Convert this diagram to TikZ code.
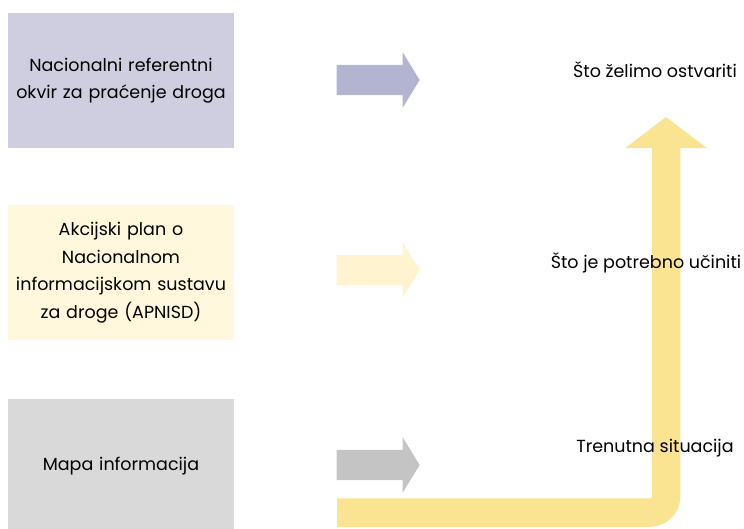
\documentclass[tikz,border=0pt]{standalone}
\usepackage{fontspec}
\setmainfont{Poppins}
\usepackage{tikz}
\usetikzlibrary{positioning,arrows.meta,shapes.arrows}
\definecolor{boxlav}{HTML}{CFCEE0}
\definecolor{boxcream}{HTML}{FFF8DC}
\definecolor{boxgray}{HTML}{D9D9D9}
\definecolor{arrlav}{HTML}{B3B5D0}
\definecolor{arrcream}{HTML}{FFF3D0}
\definecolor{arrgray}{HTML}{C4C4C4}
\definecolor{bigyellow}{HTML}{FBE491}
\tikzset{
  mainbox/.style={rectangle, minimum width=226pt, minimum height=135pt, inner sep=2pt,
                  align=center, text width=222pt, font=\fontsize{17.5}{27.5}\selectfont},
  smallarrow/.style={single arrow, minimum height=83pt, minimum width=55pt,
                     single arrow head extend=12.5pt, single arrow tip angle=117,
                     single arrow head indent=0pt, inner xsep=0pt, inner ysep=15pt},
  bigarrow/.style={line width=28.5pt, draw=bigyellow, rounded corners=16pt,
                   -{Triangle[width=80pt,length=31pt]}},
  label/.style={font=\fontsize{17.5}{20}\selectfont},
  lav/.style={fill=boxlav},
  cream/.style={fill=boxcream},
  gray/.style={fill=boxgray},
}
\begin{document}
\begin{tikzpicture}[x=1pt,y=-1pt]
  \useasboundingbox (0,0) rectangle (744,528);

  \node[mainbox, lav] (box1) at (121,80.5) {Nacionalni referentni\\okvir za praćenje droga};
  \node[mainbox, cream] (box2) at (121,272.5) {Akcijski plan o\\Nacionalnom\\informacijskom sustavu\\za droge (APNISD)};
  \node[mainbox, gray] (box3) at (121,466) {Mapa informacija};

  \node[smallarrow, fill=arrlav] (arrow1) at (373.5,80) {};
  \node[smallarrow, fill=arrcream] (arrow2) at (373.5,270) {};
  \node[smallarrow, fill=arrgray] (arrow3) at (373.5,465) {};

  % the way up
  \coordinate (start) at (337,512.5);
  \coordinate (top) at (666,117);
  \draw[bigarrow] (start) -| (top);

  \node[label] (goal) at (655,70) {Što želimo ostvariti};
  \node[label] (todo) at (646,263) {Što je potrebno učiniti};
  \node[label] (now) at (655,448) {Trenutna situacija};
\end{tikzpicture}
\end{document}
